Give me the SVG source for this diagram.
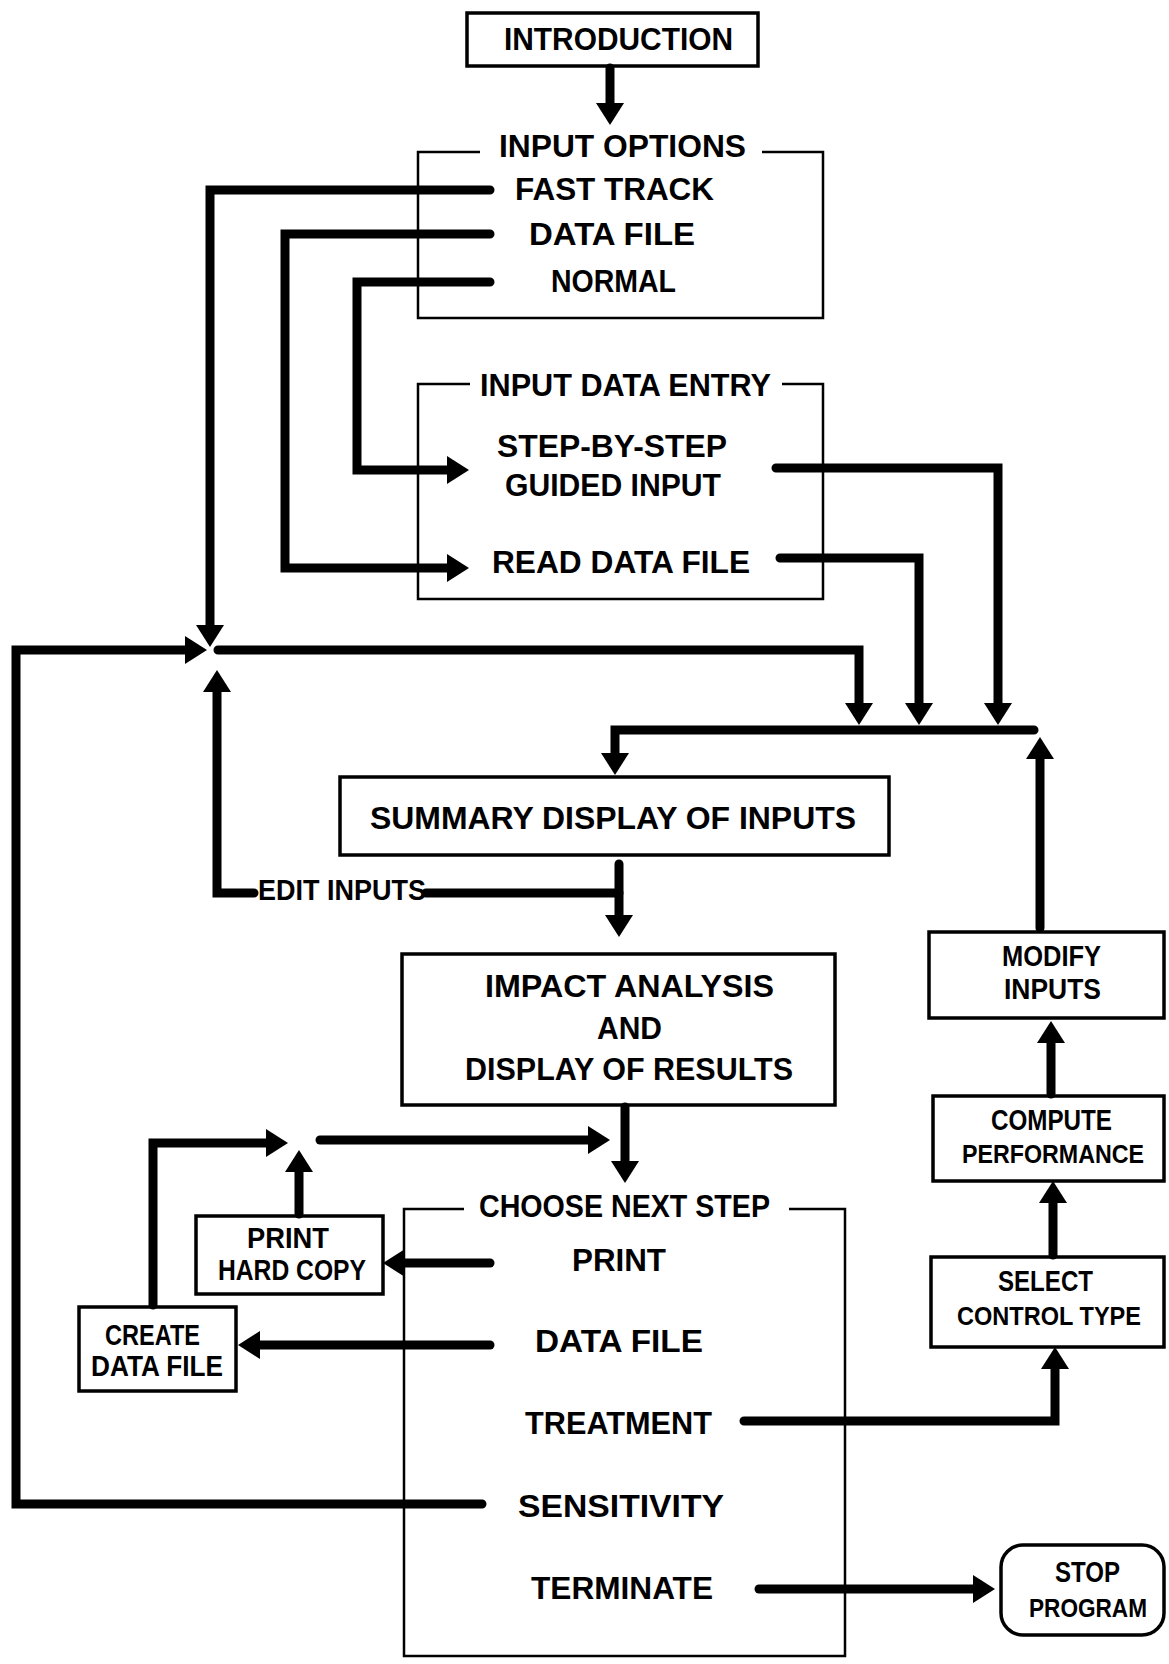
<svg xmlns="http://www.w3.org/2000/svg" width="1169" height="1664" viewBox="0 0 1169 1664">
<defs>
<style>
.box{fill:none;stroke:#000;stroke-width:3.5}
.frame{fill:none;stroke:#000;stroke-width:2.5}
.con{fill:none;stroke:#000;stroke-width:9;stroke-linecap:round;stroke-linejoin:miter}
.t{font-family:"Liberation Sans",Arial,sans-serif;font-weight:bold;font-size:32px;fill:#000}
.s{font-family:"Liberation Sans",Arial,sans-serif;font-weight:bold;font-size:29px;fill:#000}
.n{font-family:"Liberation Sans",Arial,sans-serif;font-weight:bold;font-size:26px;fill:#000}
</style>
<marker id="ah" markerUnits="userSpaceOnUse" markerWidth="22" markerHeight="28" viewBox="0 0 22 28" refX="0" refY="14" orient="auto">
<path d="M0,0 L22,14 L0,28 z" fill="#000"/>
</marker>
</defs>
<rect x="0" y="0" width="1169" height="1664" fill="#fff"/>

<g id="introduction">
<rect class="box" x="467" y="13" width="291" height="53"/>
<text class="t" x="504" y="50" textLength="229" lengthAdjust="spacingAndGlyphs">INTRODUCTION</text>
</g>

<g id="input-options">
<path class="frame" d="M480,152 H418 V318 H823 V152 H762"/>
<text class="t" x="499" y="157" textLength="247" lengthAdjust="spacingAndGlyphs">INPUT  OPTIONS</text>
<text class="t" x="515" y="200" textLength="199" lengthAdjust="spacingAndGlyphs">FAST TRACK</text>
<text class="t" x="529" y="245" textLength="166" lengthAdjust="spacingAndGlyphs">DATA FILE</text>
<text class="t" x="551" y="292" textLength="125" lengthAdjust="spacingAndGlyphs">NORMAL</text>
</g>

<g id="input-data-entry">
<path class="frame" d="M470,384 H418 V599 H823 V384 H782"/>
<text class="t" x="480" y="396" textLength="291" lengthAdjust="spacingAndGlyphs">INPUT DATA ENTRY</text>
<text class="t" x="497" y="457" textLength="230" lengthAdjust="spacingAndGlyphs">STEP-BY-STEP</text>
<text class="t" x="505" y="496" textLength="216" lengthAdjust="spacingAndGlyphs">GUIDED INPUT</text>
<text class="t" x="492" y="573" textLength="258" lengthAdjust="spacingAndGlyphs">READ DATA FILE</text>
</g>

<g id="summary-display">
<rect class="box" x="340" y="777" width="549" height="78"/>
<text class="t" x="370" y="829" textLength="486" lengthAdjust="spacingAndGlyphs">SUMMARY DISPLAY OF INPUTS</text>
</g>

<g id="edit-inputs">
<text class="s" x="258" y="900" textLength="168" lengthAdjust="spacingAndGlyphs">EDIT INPUTS</text>
</g>

<g id="impact-analysis">
<rect class="box" x="402" y="954" width="433" height="151"/>
<text class="t" x="485" y="997" textLength="289" lengthAdjust="spacingAndGlyphs">IMPACT ANALYSIS</text>
<text class="t" x="597" y="1039" textLength="65" lengthAdjust="spacingAndGlyphs">AND</text>
<text class="t" x="465" y="1080" textLength="328" lengthAdjust="spacingAndGlyphs">DISPLAY OF RESULTS</text>
</g>

<g id="choose-next-step">
<path class="frame" d="M464,1209 H404 V1656 H845 V1209 H789"/>
<text class="t" x="479" y="1217" textLength="291" lengthAdjust="spacingAndGlyphs">CHOOSE NEXT STEP</text>
<text class="t" x="572" y="1271" textLength="94" lengthAdjust="spacingAndGlyphs">PRINT</text>
<text class="t" x="535" y="1352" textLength="168" lengthAdjust="spacingAndGlyphs">DATA FILE</text>
<text class="t" x="525" y="1434" textLength="187" lengthAdjust="spacingAndGlyphs">TREATMENT</text>
<text class="t" x="518" y="1517" textLength="206" lengthAdjust="spacingAndGlyphs">SENSITIVITY</text>
<text class="t" x="531" y="1599" textLength="182" lengthAdjust="spacingAndGlyphs">TERMINATE</text>
</g>

<g id="print-hard-copy">
<rect class="box" x="196" y="1216" width="187" height="78"/>
<text class="s" x="247" y="1248" textLength="82" lengthAdjust="spacingAndGlyphs">PRINT</text>
<text class="s" x="218" y="1280" textLength="148" lengthAdjust="spacingAndGlyphs">HARD COPY</text>
</g>

<g id="create-data-file">
<rect class="box" x="79" y="1307" width="157" height="84"/>
<text class="s" x="105" y="1345" textLength="95" lengthAdjust="spacingAndGlyphs">CREATE</text>
<text class="s" x="91" y="1376" textLength="132" lengthAdjust="spacingAndGlyphs">DATA FILE</text>
</g>

<g id="modify-inputs">
<rect class="box" x="929" y="932" width="235" height="86"/>
<text class="s" x="1002" y="966" textLength="99" lengthAdjust="spacingAndGlyphs">MODIFY</text>
<text class="s" x="1004" y="999" textLength="97" lengthAdjust="spacingAndGlyphs">INPUTS</text>
</g>

<g id="compute-performance">
<rect class="box" x="933" y="1096" width="231" height="85"/>
<text class="s" x="991" y="1130" textLength="121" lengthAdjust="spacingAndGlyphs">COMPUTE</text>
<text class="n" x="962" y="1163" textLength="182" lengthAdjust="spacingAndGlyphs">PERFORMANCE</text>
</g>

<g id="select-control-type">
<rect class="box" x="931" y="1257" width="233" height="90"/>
<text class="s" x="998" y="1291" textLength="95" lengthAdjust="spacingAndGlyphs">SELECT</text>
<text class="n" x="957" y="1325" textLength="184" lengthAdjust="spacingAndGlyphs">CONTROL TYPE</text>
</g>

<g id="stop-program">
<rect class="box" x="1001" y="1545" width="163" height="90" rx="22" ry="22"/>
<text class="s" x="1055" y="1582" textLength="65" lengthAdjust="spacingAndGlyphs">STOP</text>
<text class="n" x="1029" y="1617" textLength="118" lengthAdjust="spacingAndGlyphs">PROGRAM</text>
</g>

<g id="connectors">
<path class="con" d="M610,68 V103" marker-end="url(#ah)"/>
<path class="con" d="M490,190 H210 V625" marker-end="url(#ah)"/>
<path class="con" d="M490,234 H285 V568 H447" marker-end="url(#ah)"/>
<path class="con" d="M490,282 H357 V470 H447" marker-end="url(#ah)"/>
<path class="con" d="M776,468 H998 V703" marker-end="url(#ah)"/>
<path class="con" d="M780,558 H919 V703" marker-end="url(#ah)"/>
<path class="con" d="M218,650 H859 V703" marker-end="url(#ah)"/>
<path class="con" d="M1034,730 H615 V753" marker-end="url(#ah)"/>
<path class="con" d="M1040,928 V759" marker-end="url(#ah)"/>
<path class="con" d="M619,864 V915" marker-end="url(#ah)"/>
<path class="con" d="M426,893 H619"/>
<path class="con" d="M254,893 H217 V692" marker-end="url(#ah)"/>
<path class="con" d="M482,1504 H16 V650 H185" marker-end="url(#ah)"/>
<path class="con" d="M625,1107 V1161" marker-end="url(#ah)"/>
<path class="con" d="M153,1305 V1143 H266" marker-end="url(#ah)"/>
<path class="con" d="M299,1214 V1172" marker-end="url(#ah)"/>
<path class="con" d="M320,1140 H588" marker-end="url(#ah)"/>
<path class="con" d="M490,1263 H405" marker-end="url(#ah)"/>
<path class="con" d="M490,1345 H260" marker-end="url(#ah)"/>
<path class="con" d="M744,1421 H1055 V1369" marker-end="url(#ah)"/>
<path class="con" d="M1053,1255 V1203" marker-end="url(#ah)"/>
<path class="con" d="M1051,1094 V1043" marker-end="url(#ah)"/>
<path class="con" d="M759,1589 H973" marker-end="url(#ah)"/>
</g>
</svg>
